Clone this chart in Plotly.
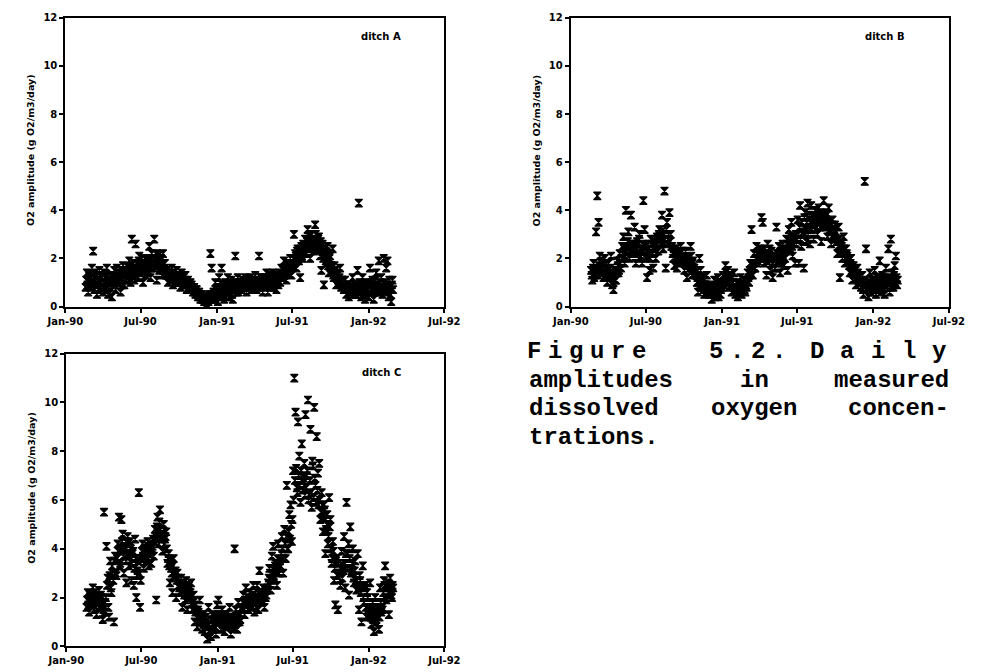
import pandas as pd
import plotly.graph_objects as go

# ---------------- data: readings every 3 days from 19 Feb 1990 ----------------
START_DATE = "1990-02-19"
START_DATE_MID = "1990-02-20 12:00"   # in-between readings, also every 3 days
STEP = "3D"

ditch_a = [
    0.8, 1.4, 0.6, 1.2,
    0.9, 1.6, 2.3, 0.7, 1.3, 0.5, 1.1, 1.5, 0.8, 1.2,
    0.6, 1.4, 0.9, 1.6, 0.5, 1.0, 1.3, 0.4, 1.1, 1.5,
    0.7, 1.6, 1.0, 1.4, 0.6, 1.2, 1.7, 0.9, 1.5, 1.1,
    1.3, 1.9, 1.0, 2.8, 1.5, 1.1, 2.6, 1.8, 1.2, 2.1,
    1.4, 2.0, 1.0, 1.7, 1.3, 1.9, 1.5, 2.5, 1.2, 2.2, 1.6,
    2.8, 1.8, 1.1, 2.1, 1.5, 1.9, 1.3, 2.2, 1.6, 1.4,
    1.5, 1.0, 1.4, 1.2, 1.6, 0.9, 1.3, 1.1, 1.5, 1.0,
    1.2, 0.8, 1.4, 1.0, 0.9, 1.3, 0.7, 1.1, 0.8, 1.0,
    0.9, 0.6, 0.8, 0.5, 0.7, 0.4, 0.6, 0.3, 0.5, 0.3,
    0.2, 0.4, 0.1, 0.3, 0.5, 2.2, 1.6, 0.3, 0.6, 1.0, 0.4,
    0.2, 1.2, 0.5, 1.6, 0.8, 0.3, 1.0, 0.6, 1.2, 0.4,
    0.7, 1.1, 0.3, 0.9, 2.1, 0.6, 1.2, 0.8, 1.0,
    0.7, 1.1, 0.9, 1.2, 0.6, 1.0, 0.8, 1.2, 0.7, 1.0, 0.9,
    1.3, 0.7, 1.0, 2.1, 0.8, 1.2, 0.6, 1.1, 0.9, 1.4,
    0.6, 1.0, 1.3, 0.8, 1.4, 0.9, 1.2, 0.7, 1.1, 1.4,
    1.0, 1.6, 1.2, 1.9, 1.4, 1.1, 1.8, 1.5, 2.0, 1.3,
    1.7, 3.0, 2.2, 1.6, 2.4, 1.9, 1.2, 2.5, 2.0, 2.3,
    2.8, 2.2, 3.2, 2.5, 2.0, 3.0, 2.6, 2.3, 3.4, 2.7, 2.4,
    2.9, 2.1, 1.5, 2.6, 0.9, 2.3, 1.8, 2.5, 1.4, 2.1,
    1.7, 2.4, 1.2, 1.5, 0.9, 1.3, 1.0, 1.6, 0.8, 1.1,
    0.7, 1.1, 0.5, 0.9, 0.4, 0.8, 0.6, 1.2, 0.5, 0.7,
    0.5, 1.5, 4.3, 0.9, 0.4, 1.2, 0.6, 0.3, 1.0, 0.7,
    0.4, 1.6, 0.7, 1.1, 0.3, 0.9, 1.4, 0.6, 1.9, 0.8, 1.2,
    0.5, 2.0, 0.9, 1.6, 1.9, 0.4, 0.8, 0.2, 1.1,
]
ditch_a_mid = [
    1.1, 0.9, 1.3, 1.0,
    1.2, 0.8, 1.0, 1.4, 0.9, 1.1, 0.7, 1.3, 1.0, 0.8,
    1.0, 1.2, 0.7, 1.1, 1.3, 0.8, 1.0, 1.2, 0.9, 1.1,
    1.2, 1.0, 1.3, 1.1, 1.5, 0.9, 1.3, 1.4, 1.1, 1.5,
    1.6, 1.4, 1.7, 1.3, 1.8, 1.5, 1.4, 1.6, 1.9, 1.5,
    1.7, 1.5, 1.8, 1.6, 2.0, 1.4, 1.7, 1.9, 1.6, 1.8, 2.0,
    2.0, 1.7, 2.2, 1.8, 1.6, 2.0, 1.7, 1.5, 1.8, 1.3,
    1.3, 1.4, 1.1, 1.3, 1.2, 1.4, 1.0, 1.2, 1.3, 1.1,
    1.0, 1.1, 0.9, 1.2, 1.1, 0.9, 1.0, 0.8, 0.9, 0.7,
    0.7, 0.8, 0.6, 0.7, 0.5, 0.6, 0.4, 0.5, 0.3, 0.4,
    0.3, 0.2, 0.4, 0.2, 0.3, 0.5, 0.4, 0.6, 0.3, 0.7, 0.5,
    0.6, 0.8, 0.4, 0.9, 0.5, 0.7, 0.4, 0.9, 0.6, 0.8,
    0.9, 0.5, 0.8, 1.0, 0.7, 0.9, 0.6, 1.0, 0.8,
    0.9, 0.8, 1.0, 0.9, 1.1, 0.8, 1.0, 0.9, 1.1, 0.8, 1.0,
    0.9, 1.1, 0.8, 1.0, 1.2, 0.9, 1.0, 0.8, 1.2, 1.0,
    1.1, 0.9, 1.0, 1.2, 0.8, 1.1, 1.0, 1.3, 0.9, 1.2,
    1.3, 1.2, 1.5, 1.3, 1.6, 1.5, 1.4, 1.7, 1.6, 1.8,
    2.0, 1.8, 2.1, 2.3, 2.0, 2.2, 2.4, 2.1, 2.6, 2.4,
    2.5, 2.7, 2.4, 2.9, 2.6, 2.8, 2.4, 2.7, 3.0, 2.5, 2.8,
    2.5, 2.7, 2.3, 2.0, 2.4, 1.9, 2.2, 1.7, 2.0, 1.6,
    1.5, 1.3, 1.7, 1.2, 1.4, 1.1, 1.2, 0.9, 1.1, 0.9,
    0.9, 0.8, 0.7, 0.9, 0.6, 0.7, 0.8, 0.6, 0.9, 0.5,
    0.8, 0.6, 1.0, 0.7, 0.9, 0.5, 0.8, 0.6, 0.7, 0.9,
    0.9, 0.7, 1.0, 0.6, 0.8, 1.1, 0.7, 0.9, 0.6, 1.0, 0.7,
    0.8, 1.0, 0.6, 0.9, 0.7, 1.1, 0.5, 0.9, 0.7,
]

ditch_b = [
    1.5, 1.1, 1.8, 1.3,
    3.1, 4.6, 3.5, 2.1, 1.4, 1.9, 1.2, 2.0, 1.6, 1.0,
    1.8, 1.3, 2.1, 0.9, 0.7, 1.5, 1.1, 1.9, 1.4, 2.2,
    1.6, 2.5, 2.9, 1.8, 4.0, 2.3, 3.1, 2.0, 3.8, 2.6,
    2.2, 3.3, 1.8, 2.7, 2.0, 3.0, 2.4, 1.8, 4.4, 3.2,
    2.0, 1.2, 2.6, 1.5, 2.8, 2.2, 1.6, 2.5, 2.0, 2.9, 2.3,
    3.2, 2.6, 3.8, 2.4, 4.8, 1.6, 3.5, 2.8, 3.9, 3.0,
    2.5, 2.0, 1.7, 2.4, 1.6, 2.2, 1.9, 2.5, 1.8, 2.1,
    1.5, 2.3, 1.2, 2.0, 1.7, 2.5, 1.3, 1.9, 1.6, 1.4,
    1.0, 0.6, 2.0, 1.5, 0.8, 1.2, 0.5, 0.9, 1.3, 0.7,
    0.5, 0.9, 0.3, 0.7, 1.1, 0.4, 0.6, 1.2, 0.8, 0.5, 1.0,
    1.3, 0.9, 1.7, 1.1, 1.5, 0.8, 1.3, 0.6, 1.0, 1.4,
    0.5, 1.0, 0.4, 0.8, 1.2, 0.5, 0.7, 1.1, 0.6,
    0.8, 1.4, 1.0, 1.8, 3.2, 1.3, 2.2, 1.6, 2.5, 1.9, 2.1,
    2.4, 3.7, 3.5, 1.8, 2.2, 1.3, 2.6, 2.0, 1.5, 2.3,
    1.2, 2.1, 1.6, 3.3, 1.8, 2.5, 1.4, 2.2, 2.6, 1.7,
    2.0, 2.8, 1.5, 3.2, 2.4, 3.5, 2.1, 2.9, 1.8, 2.6,
    3.6, 1.8, 4.2, 2.5, 3.0, 1.6, 3.9, 2.7, 4.3, 3.3,
    2.6, 4.2, 3.4, 2.8, 4.0, 3.7, 3.0, 4.1, 3.3, 2.7, 3.8,
    4.4, 3.5, 3.9, 2.9, 4.1, 3.2, 2.6, 3.6, 3.0, 3.4,
    3.1, 2.2, 3.3, 1.2, 2.6, 2.0, 2.9, 1.8, 2.4, 2.1,
    1.9, 1.4, 2.0, 1.1, 1.7, 1.3, 0.9, 1.6, 1.2, 1.0,
    0.8, 1.3, 0.5, 5.2, 2.4, 0.9, 0.4, 1.4, 0.6, 1.1,
    0.7, 1.5, 0.5, 1.2, 0.9, 1.9, 0.6, 1.3, 1.0, 0.5, 1.6,
    1.1, 2.4, 0.6, 2.8, 1.4, 0.8, 1.7, 2.1, 0.9,
]
ditch_b_mid = [
    1.3, 1.6, 1.2, 1.5,
    1.6, 1.3, 1.7, 1.5, 1.8, 1.4, 1.6, 1.3, 1.8, 1.5,
    1.4, 1.6, 1.2, 1.0, 1.3, 1.1, 1.4, 1.7, 1.5, 1.8,
    2.0, 2.2, 2.4, 2.1, 2.5, 2.7, 2.3, 2.6, 2.2, 2.4,
    2.5, 2.3, 2.6, 2.2, 2.8, 2.4, 2.1, 2.6, 2.3, 2.5,
    2.3, 2.1, 2.4, 2.0, 2.6, 2.2, 2.7, 2.4, 2.8, 2.6, 3.0,
    2.9, 3.1, 2.7, 3.0, 2.8, 3.2, 2.6, 3.0, 2.7, 2.5,
    2.2, 2.4, 2.0, 2.3, 2.1, 1.9, 2.2, 2.0, 2.3, 1.9,
    1.8, 2.0, 1.7, 1.9, 1.6, 2.1, 1.8, 1.6, 1.5, 1.3,
    1.2, 1.0, 0.9, 1.1, 0.8, 0.7, 0.9, 0.6, 0.8, 0.6,
    0.7, 0.5, 0.8, 0.6, 0.5, 0.8, 0.7, 0.4, 0.9, 0.7, 0.8,
    1.0, 1.2, 1.4, 1.2, 1.0, 1.1, 0.9, 1.0, 0.8, 0.7,
    0.8, 0.6, 0.9, 0.7, 0.6, 0.8, 0.9, 0.7, 0.9,
    1.1, 1.2, 1.5, 1.4, 1.7, 1.8, 1.6, 2.0, 1.8, 2.2, 2.0,
    2.1, 2.3, 2.0, 2.4, 2.1, 1.9, 2.2, 2.4, 2.0, 1.8,
    1.8, 1.6, 2.0, 2.2, 1.9, 2.0, 2.3, 1.8, 2.1, 2.4,
    2.4, 2.6, 2.3, 2.7, 2.9, 2.5, 2.8, 2.6, 3.0, 2.8,
    3.0, 3.3, 2.8, 3.5, 3.1, 3.7, 3.2, 3.5, 3.0, 3.8,
    3.5, 3.2, 3.7, 3.4, 3.6, 3.3, 3.8, 3.5, 3.9, 3.6, 3.4,
    3.7, 3.3, 3.8, 3.4, 3.5, 3.1, 3.4, 2.9, 3.2, 2.8,
    2.7, 2.5, 2.8, 2.3, 2.5, 2.2, 2.4, 2.0, 2.2, 1.9,
    1.7, 1.8, 1.5, 1.6, 1.4, 1.5, 1.2, 1.4, 1.0, 1.1,
    1.0, 0.7, 0.9, 1.1, 0.7, 0.8, 1.0, 0.6, 0.9, 0.8,
    1.0, 0.8, 1.1, 0.9, 1.2, 0.7, 1.0, 0.8, 1.2, 0.9, 1.0,
    1.0, 1.2, 0.8, 1.1, 0.9, 1.3, 1.0, 1.2, 1.1,
]

ditch_c = [
    1.6, 2.2, 1.4, 2.0,
    1.8, 2.4, 1.5, 2.1, 1.3, 1.9, 2.3, 1.6, 2.0, 1.1,
    5.5, 1.8, 4.1, 2.8, 1.2, 3.5, 2.2, 3.0, 1.0, 3.7,
    2.9, 4.2, 5.3, 3.4, 5.2, 4.6, 3.0, 4.0, 2.6, 4.5,
    3.3, 4.3, 2.7, 3.8, 2.5, 4.4, 2.0, 3.1, 6.3, 1.6,
    3.6, 4.2, 3.2, 4.0, 3.5, 4.3, 3.3, 3.9, 3.4, 4.1, 3.7,
    4.8, 1.9, 5.3, 4.2, 5.6, 4.5, 3.9, 5.0, 4.4, 4.7,
    3.4, 3.8, 2.6, 3.2, 2.2, 3.6, 2.8, 2.0, 3.0, 2.5,
    2.2, 2.8, 1.6, 2.5, 1.9, 2.7, 1.5, 2.3, 2.0, 2.6,
    1.5, 2.1, 1.0, 1.7, 0.8, 1.4, 1.9, 1.1, 0.7, 1.3,
    0.6, 1.2, 0.3, 1.6, 0.9, 0.4, 1.3, 0.7, 1.0, 0.5, 1.7,
    1.9, 1.2, 0.7, 1.5, 1.0, 0.6, 1.3, 0.8, 1.1, 1.6,
    0.5, 1.2, 0.8, 4.0, 1.5, 0.7, 1.8, 1.0, 1.3,
    1.6, 2.1, 1.3, 2.4, 1.8, 1.5, 2.2, 1.7, 2.0, 2.5, 1.4,
    1.8, 2.5, 1.5, 3.1, 2.2, 1.9, 2.4, 1.6, 2.0, 2.3,
    2.6, 3.2, 2.3, 3.7, 4.1, 2.8, 3.4, 2.5, 4.2, 3.0,
    3.3, 4.5, 3.0, 4.8, 3.6, 6.6, 4.0, 5.4, 5.8, 4.3,
    7.2, 11.0, 9.6, 6.5, 9.2, 7.8, 5.9, 8.3, 6.8, 7.5,
    9.5, 7.0, 10.1, 6.2, 8.9, 5.7, 7.4, 9.8, 6.6, 8.6, 7.1,
    7.5, 5.2, 6.3, 4.7, 5.8, 3.8, 5.0, 4.2, 6.1, 5.2,
    3.4, 4.3, 2.7, 1.7, 3.6, 1.5, 3.0, 2.5, 3.9, 3.3,
    4.5, 2.4, 5.9, 3.8, 2.1, 4.9, 3.1, 4.0, 2.6, 3.5,
    2.3, 3.8, 1.5, 2.7, 1.0, 3.3, 1.8, 2.5, 1.2, 2.0,
    1.3, 2.6, 0.9, 1.8, 0.6, 2.0, 1.1, 1.6, 0.7, 2.4, 1.4,
    1.5, 2.7, 3.3, 1.9, 2.4, 1.3, 2.8, 2.1, 2.5,
]
ditch_c_mid = [
    1.9, 1.7, 2.1, 1.8,
    2.0, 1.7, 2.2, 1.8, 2.0, 1.6, 1.9, 2.1, 1.7, 1.5,
    1.4, 2.0, 2.5, 1.6, 2.9, 2.4, 3.3, 2.7, 3.5, 3.0,
    3.6, 3.9, 3.3, 4.0, 4.3, 3.7, 4.1, 3.5, 3.8, 4.2,
    3.7, 4.0, 3.4, 3.9, 3.2, 3.6, 2.9, 3.5, 3.0, 2.7,
    3.9, 3.7, 4.0, 3.8, 3.6, 4.1, 3.8, 4.2, 4.0, 4.4, 4.3,
    4.5, 4.9, 4.6, 5.1, 4.8, 4.4, 4.6, 4.2, 4.5, 4.0,
    3.6, 3.3, 3.5, 3.0, 3.3, 2.9, 3.1, 2.7, 2.8, 2.4,
    2.5, 2.3, 2.6, 2.1, 2.4, 2.2, 2.0, 2.5, 2.2, 1.9,
    1.8, 1.5, 1.4, 1.2, 1.5, 1.1, 1.3, 1.0, 1.2, 0.9,
    1.0, 0.8, 0.9, 0.6, 1.1, 0.7, 0.9, 1.2, 0.8, 1.1, 1.3,
    1.3, 1.0, 1.2, 0.9, 1.3, 1.1, 0.9, 1.0, 1.2, 0.9,
    1.0, 0.8, 1.1, 0.9, 1.2, 1.0, 1.3, 1.1, 1.5,
    1.8, 1.5, 1.9, 1.7, 2.0, 1.8, 1.6, 1.9, 2.1, 1.8, 2.0,
    2.0, 2.2, 1.9, 2.1, 1.8, 2.2, 2.0, 2.3, 2.1, 2.4,
    2.8, 3.0, 2.7, 3.2, 2.9, 3.3, 3.1, 3.6, 3.2, 3.5,
    3.8, 4.0, 3.6, 4.2, 4.5, 4.0, 4.7, 4.4, 5.0, 5.2,
    6.0, 6.8, 7.3, 6.3, 7.0, 6.6, 7.2, 6.4, 6.9, 6.2,
    6.5, 7.2, 6.0, 6.8, 6.3, 7.6, 6.1, 6.9, 5.9, 6.4, 5.8,
    6.0, 5.5, 5.8, 5.3, 5.6, 4.8, 5.4, 4.5, 4.9, 4.0,
    3.6, 3.9, 3.2, 3.5, 2.9, 3.4, 3.0, 3.2, 2.8, 3.1,
    3.4, 3.8, 3.2, 4.2, 3.6, 3.0, 3.4, 2.8, 3.1, 2.7,
    2.7, 2.4, 2.9, 2.2, 2.5, 2.0, 2.4, 1.6, 2.2, 1.5,
    1.6, 1.2, 1.5, 1.1, 1.4, 1.0, 1.3, 1.5, 1.2, 1.8, 1.6,
    2.2, 2.5, 2.0, 2.4, 2.6, 2.2, 2.3, 2.0, 2.4,
]

panel_labels = ["ditch A", "ditch B", "ditch C"]
y_title = "O2 amplitude (g O2/m3/day)"
x_ticks = ["1990-01-01", "1990-07-01", "1991-01-01", "1991-07-01", "1992-01-01", "1992-07-01"]
x_tick_labels = ["Jan-90", "Jul-90", "Jan-91", "Jul-91", "Jan-92", "Jul-92"]
y_ticks = [0, 2, 4, 6, 8, 10, 12]

caption_line1 = [("Figure", 534, 21.7), ("5.2.", 723, 21.7), ("Daily", 827, 31.7)]
caption_lines = [
    [("amplitudes", "left"), ("in", "center"), ("measured", "right")],
    [("dissolved", "left"), ("oxygen", "center"), ("concen-", "right")],
    [("trations.", "left")],
]

# ---------------- figure ----------------
W, H = 990, 672
def px_x(p):
    return p / W
def px_y(p):
    return 1 - p / H

panels = [
    (ditch_a, ditch_a_mid, (48, 441), (12, 306), ""),
    (ditch_b, ditch_b_mid, (572, 964), (12, 306), "2"),
    (ditch_c, ditch_c_mid, (49, 441), (354, 652), "3"),
]

fig = go.Figure()
tick_font = dict(family="DejaVu Sans", size=10, color="black", weight="bold")
layout = dict(
    width=W, height=H,
    margin=dict(l=0, r=0, t=0, b=0),
    paper_bgcolor="white", plot_bgcolor="white",
    showlegend=False,
    font=dict(family="DejaVu Sans", color="black"),
)
marker = dict(symbol="hourglass", size=7.5, color="black", line=dict(color="black", width=1.2))

annotations = []
for i, (vals, mids, (x0, x1), (yt, yb), sfx) in enumerate(panels):
    for start, series in ((START_DATE, vals), (START_DATE_MID, mids)):
        dates = pd.date_range(start, periods=len(series), freq=STEP)
        fig.add_trace(go.Scatter(
            x=dates, y=series, mode="markers", marker=marker,
            xaxis="x" + sfx, yaxis="y" + sfx, cliponaxis=False,
        ))
    layout["xaxis" + sfx] = dict(
        domain=[px_x(x0), px_x(x1)], anchor="y" + sfx,
        range=["1990-01-01", "1992-07-01"],
        tickmode="array", tickvals=x_ticks, ticktext=x_tick_labels,
        ticks="outside", ticklen=4, tickwidth=1.5, tickcolor="black",
        showline=True, linecolor="black", linewidth=2, mirror=True,
        showgrid=False, zeroline=False, tickfont=tick_font,
    )
    layout["yaxis" + sfx] = dict(
        domain=[px_y(yb), px_y(yt)], anchor="x" + sfx,
        range=[0, 12], tickvals=y_ticks,
        ticks="outside", ticklen=4, tickwidth=1.5, tickcolor="black",
        showline=True, linecolor="black", linewidth=2, mirror=True,
        showgrid=False, zeroline=False, tickfont=tick_font,
    )
    annotations.append(dict(
        text=y_title, textangle=-90, xref="paper", yref="paper",
        x=px_x(x0 - 36), y=px_y((yt + yb) / 2 - 12), xanchor="center", yanchor="middle",
        showarrow=False, font=dict(family="DejaVu Sans", size=9.5, color="black", weight="bold"),
    ))
    annotations.append(dict(
        text=panel_labels[i], xref="paper", yref="paper",
        x=px_x(x1 - 43), y=px_y(yt + 19), xanchor="right", yanchor="middle",
        showarrow=False, font=dict(family="DejaVu Sans", size=10, color="black", weight="bold"),
    ))

cap_font = dict(family="Liberation Mono", size=24, color="black", weight="bold")
line_y = [352, 381, 410, 439]
for word, cx, pitch in caption_line1:
    for k, ch in enumerate(word):
        annotations.append(dict(
            text=ch, xref="paper", yref="paper", x=px_x(cx + k * pitch), y=px_y(line_y[0]),
            xanchor="center", yanchor="middle", showarrow=False, font=cap_font,
        ))
anchor_x = {"left": 527, "center": 762, "right": 966}
for li, words in enumerate(caption_lines):
    for word, anc in words:
        annotations.append(dict(
            text=word, xref="paper", yref="paper", x=px_x(anchor_x[anc]), y=px_y(line_y[li + 1]),
            xanchor=anc, yanchor="middle", showarrow=False, font=cap_font,
        ))

layout["annotations"] = annotations
fig.update_layout(**layout)
fig.write_html("out.html")
